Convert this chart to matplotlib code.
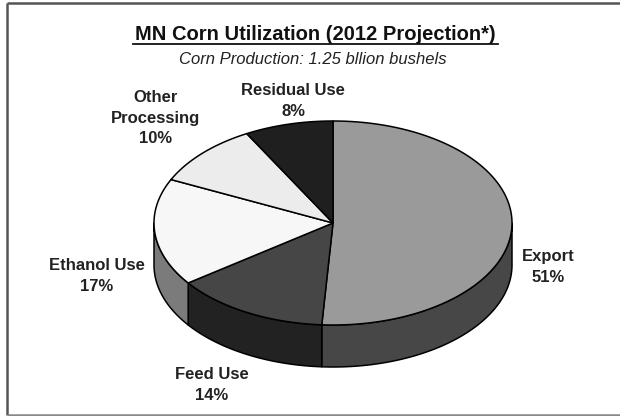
import numpy as np
import matplotlib
matplotlib.use("Agg")
import matplotlib.pyplot as plt
from matplotlib.patches import Polygon

plt.rcParams['font.family'] = ['Liberation Sans', 'DejaVu Sans']

# ---- data ----
categories = ["Export", "Feed Use", "Ethanol Use", "Other\nProcessing", "Residual Use"]
shares = [51, 14, 17, 10, 8]
top_colors = ["#9a9a9a", "#464646", "#f7f7f7", "#ececec", "#1f1f1f"]
side_colors = ["#474747", "#222222", "#7b7b7b", "#bbbbbb", "#111111"]
title = "MN Corn Utilization (2012 Projection*)"
subtitle = "Corn Production: 1.25 bllion bushels"

# ---- layout (pixel coordinates) ----
W, H = 620, 416
cx, cy = 333, 223       # pie centre
ra, rb = 179, 102       # ellipse semi-axes
depth = 42
label_pos = [(548, 267), (212, 385), (97, 276), (156, 118), (293, 101)]

fig = plt.figure(figsize=(W / 100, H / 100), dpi=100)
ax = fig.add_axes([0, 0, 1, 1])
ax.set_xlim(0, W)
ax.set_ylim(H, 0)
ax.axis('off')

# frame
ax.plot([7, 7], [3, 415], color="#555555", lw=1.8, solid_capstyle='butt')
ax.plot([7, 625], [3, 3], color="#555555", lw=1.8, solid_capstyle='butt')
ax.plot([7, 625], [415, 415], color="#888888", lw=1.8, solid_capstyle='butt')


def pt(theta_deg, dz=0.0):
    t = np.deg2rad(theta_deg)
    return cx + ra * np.cos(t), cy - rb * np.sin(t) + dz


# slice angles (clockwise from 12 o'clock)
total = float(sum(shares))
starts, ends = [], []
ang = 90.0
for s in shares:
    span = 360.0 * s / total
    starts.append(ang)
    ends.append(ang - span)
    ang -= span

# sides (front half: angles in [-180, 0])
for st, en, sc in zip(starts, ends, side_colors):
    hi, lo = st, en
    for shift in (0, -360, 360):
        h, l = hi + shift, lo + shift
        a0, a1 = max(l, -180), min(h, 0)
        if a1 > a0:
            th = np.linspace(a1, a0, 80)
            top = [pt(t) for t in th]
            bot = [pt(t, depth) for t in th[::-1]]
            ax.add_patch(Polygon(top + bot, closed=True, facecolor=sc,
                                 edgecolor="black", lw=1.1, joinstyle='round'))

# tops
for st, en, tc in zip(starts, ends, top_colors):
    th = np.linspace(st, en, 150)
    verts = [(cx, cy)] + [pt(t) for t in th]
    ax.add_patch(Polygon(verts, closed=True, facecolor=tc,
                         edgecolor="black", lw=1.1, joinstyle='round'))

# labels
for cat, s, (lx, ly) in zip(categories, shares, label_pos):
    ax.text(lx, ly, f"{cat}\n{s}%", ha='center', va='center',
            fontsize=12, fontweight='bold', color="#222222",
            linespacing=1.45)

# title
ax.text(315, 35, title, ha='center', va='center', fontsize=14.5,
        fontweight='bold', color="#111111")
ax.plot([133, 498], [44, 44], color="#111111", lw=1.3)
ax.text(313, 60, subtitle, ha='center', va='center', fontsize=12,
        style='italic', color="#222222")

fig.savefig("out.png", dpi=100)
